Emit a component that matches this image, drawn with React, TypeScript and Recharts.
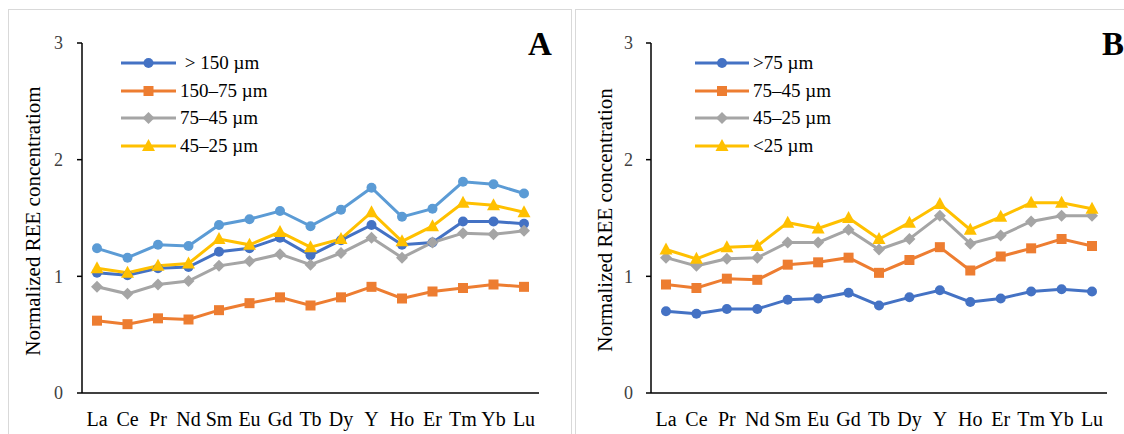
import { LineChart, Line, XAxis, YAxis, Legend } from "recharts";

const elements = ["La", "Ce", "Pr", "Nd", "Sm", "Eu", "Gd", "Tb", "Dy", "Y", "Ho", "Er", "Tm", "Yb", "Lu"];
const yTicks = [0, 1, 2, 3];

// panel A
const aOver150 = [1.03, 1.01, 1.07, 1.08, 1.21, 1.24, 1.33, 1.18, 1.31, 1.44, 1.27, 1.29, 1.47, 1.47, 1.45];
const a150to75 = [0.62, 0.59, 0.64, 0.63, 0.71, 0.77, 0.82, 0.75, 0.82, 0.91, 0.81, 0.87, 0.9, 0.93, 0.91];
const a75to45 = [0.91, 0.85, 0.93, 0.96, 1.09, 1.13, 1.19, 1.1, 1.2, 1.33, 1.16, 1.29, 1.37, 1.36, 1.39];
const a45to25 = [1.07, 1.03, 1.09, 1.11, 1.32, 1.27, 1.38, 1.25, 1.32, 1.55, 1.3, 1.43, 1.63, 1.61, 1.55];
const aUnder25 = [1.24, 1.16, 1.27, 1.26, 1.44, 1.49, 1.56, 1.43, 1.57, 1.76, 1.51, 1.58, 1.81, 1.79, 1.71];

// panel B
const bOver75 = [0.7, 0.68, 0.72, 0.72, 0.8, 0.81, 0.86, 0.75, 0.82, 0.88, 0.78, 0.81, 0.87, 0.89, 0.87];
const b75to45 = [0.93, 0.9, 0.98, 0.97, 1.1, 1.12, 1.16, 1.03, 1.14, 1.25, 1.05, 1.17, 1.24, 1.32, 1.26];
const b45to25 = [1.16, 1.09, 1.15, 1.16, 1.29, 1.29, 1.4, 1.23, 1.32, 1.52, 1.28, 1.35, 1.47, 1.52, 1.52];
const bUnder25 = [1.23, 1.15, 1.25, 1.26, 1.46, 1.41, 1.5, 1.32, 1.46, 1.62, 1.4, 1.51, 1.63, 1.63, 1.58];

const FONT = '"Liberation Serif", "Times New Roman", serif';

type Shape = "circle" | "square" | "diamond" | "triangle";
type Series = { key: string; name: string; color: string; shape: Shape; values: number[]; legend: boolean };

const seriesA: Series[] = [
  { key: "s1", name: "\u00a0> 150 µm", color: "#4472C4", shape: "circle", values: aOver150, legend: true },
  { key: "s2", name: "150–75 µm", color: "#ED7D31", shape: "square", values: a150to75, legend: true },
  { key: "s3", name: "75–45 µm", color: "#A5A5A5", shape: "diamond", values: a75to45, legend: true },
  { key: "s4", name: "45–25 µm", color: "#FFC000", shape: "triangle", values: a45to25, legend: true },
  { key: "s5", name: "<25 µm", color: "#5B9BD5", shape: "circle", values: aUnder25, legend: false },
];

const seriesB: Series[] = [
  { key: "s1", name: ">75 µm", color: "#4472C4", shape: "circle", values: bOver75, legend: true },
  { key: "s2", name: "75–45 µm", color: "#ED7D31", shape: "square", values: b75to45, legend: true },
  { key: "s3", name: "45–25 µm", color: "#A5A5A5", shape: "diamond", values: b45to25, legend: true },
  { key: "s4", name: "<25 µm", color: "#FFC000", shape: "triangle", values: bUnder25, legend: true },
];

function Marker({ cx, cy, shape, color }: { cx: number; cy: number; shape: Shape; color: string }) {
  if (cx == null || cy == null) return null;
  if (shape === "square") return <rect x={cx - 5} y={cy - 5} width={10} height={10} fill={color} />;
  if (shape === "diamond")
    return <polygon points={`${cx},${cy - 6} ${cx + 6},${cy} ${cx},${cy + 6} ${cx - 6},${cy}`} fill={color} />;
  if (shape === "triangle")
    return <polygon points={`${cx},${cy - 7} ${cx + 6.5},${cy + 5} ${cx - 6.5},${cy + 5}`} fill={color} />;
  return <circle cx={cx} cy={cy} r={5} fill={color} />;
}

function LegendBox({ series, lineW }: { series: Series[]; lineW: number }) {
  return (
    <div style={{ fontFamily: FONT, fontSize: 19, color: "#000" }}>
      {series
        .filter((s) => s.legend)
        .map((s) => (
          <div key={s.key} style={{ display: "flex", alignItems: "center", height: 27.8 }}>
            <svg width={lineW} height={16} style={{ display: "block" }}>
              <line x1={0} y1={8} x2={lineW} y2={8} stroke={s.color} strokeWidth={3} />
              <Marker cx={lineW / 2} cy={8} shape={s.shape} color={s.color} />
            </svg>
            <span style={{ marginLeft: 4, whiteSpace: "nowrap" }}>{s.name}</span>
          </div>
        ))}
    </div>
  );
}

type PanelProps = {
  series: Series[];
  left: number;
  width: number;
  axisWidth: number;
  marginRight: number;
  tickMargin: number;
  legendLeft: number;
  lineW: number;
};

function Panel({ series, left, width, axisWidth, marginRight, tickMargin, legendLeft, lineW }: PanelProps) {
  const data = elements.map((el, i) => {
    const row: Record<string, string | number> = { el };
    series.forEach((s) => (row[s.key] = s.values[i]));
    return row;
  });
  return (
    <div style={{ position: "absolute", left, top: 0 }}>
      <LineChart width={width} height={434} data={data} margin={{ top: 43, right: marginRight, bottom: 0, left: 0 }}>
        <XAxis
          dataKey="el"
          height={41}
          padding={{ left: 15, right: 15 }}
          axisLine={{ stroke: "#000", strokeWidth: 1.5 }}
          tickLine={false}
          tickSize={0}
          tickMargin={19}
          interval={0}
          tick={{ fontFamily: FONT, fontSize: 20, fill: "#000" }}
        />
        <YAxis
          width={axisWidth}
          domain={[0, 3]}
          ticks={yTicks}
          axisLine={{ stroke: "#000", strokeWidth: 1.5 }}
          tickLine={{ stroke: "#000", strokeWidth: 1.5 }}
          tickSize={5}
          tickMargin={tickMargin}
          tick={{ fontFamily: FONT, fontSize: 18, fill: "#404040" }}
        />
        <Legend
          layout="vertical"
          align="center"
          verticalAlign="middle"
          wrapperStyle={{ left: legendLeft, top: 49, width: "auto" }}
          content={() => <LegendBox series={series} lineW={lineW} />}
        />
        {series.map((s) => (
          <Line
            key={s.key}
            dataKey={s.key}
            name={s.name}
            type="linear"
            stroke={s.color}
            strokeWidth={3}
            legendType={s.legend ? "line" : "none"}
            isAnimationActive={false}
            activeDot={false}
            dot={(p: any) => (
              <Marker key={`${s.key}-${p.index}`} cx={p.cx} cy={p.cy} shape={s.shape} color={s.color} />
            )}
          />
        ))}
      </LineChart>
    </div>
  );
}

const yLabel: React.CSSProperties = {
  position: "absolute",
  transform: "translate(-50%, -50%) rotate(-90deg)",
  whiteSpace: "nowrap",
  fontFamily: FONT,
  fontSize: 21,
  color: "#000",
};

const panelLetter: React.CSSProperties = {
  position: "absolute",
  fontFamily: FONT,
  fontSize: 33,
  fontWeight: "bold",
  lineHeight: 1,
  color: "#000",
};

export default function App() {
  return (
    <div
      style={{
        position: "absolute",
        left: 0,
        top: 0,
        width: 1124,
        height: 434,
        overflow: "hidden",
        background: "#fff",
      }}
    >
      <div style={{ position: "absolute", left: 8, top: 9, width: 562, height: 440, border: "1px solid #d9d9d9" }} />
      <div style={{ position: "absolute", left: 575, top: 9, width: 560, height: 440, border: "1px solid #d9d9d9" }} />

      <Panel series={seriesA} left={0} width={570} axisWidth={82} marginRight={31} tickMargin={14} legendLeft={121} lineW={55} />
      <Panel series={seriesB} left={575} width={549} axisWidth={76} marginRight={17} tickMargin={13} legendLeft={120} lineW={54} />

      <div style={{ ...yLabel, left: 33, top: 221 }}>Normalized REE concentratiom</div>
      <div style={{ ...yLabel, left: 605, top: 220 }}>Normalized REE concentration</div>

      <div style={{ ...panelLetter, left: 528, top: 28 }}>A</div>
      <div style={{ ...panelLetter, left: 1102, top: 28 }}>B</div>
    </div>
  );
}
